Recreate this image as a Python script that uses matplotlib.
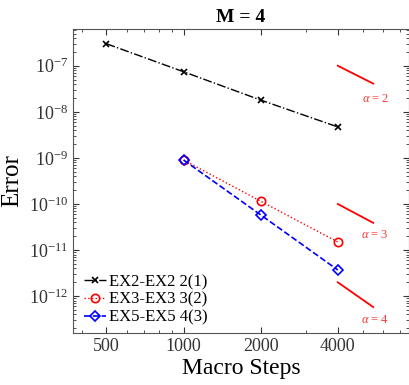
import numpy as np
import matplotlib
matplotlib.use('Agg')
import matplotlib.pyplot as plt
from matplotlib.ticker import FixedLocator, FixedFormatter, LogLocator, NullFormatter

plt.rcParams['font.family'] = 'Liberation Serif'
plt.rcParams['mathtext.fontset'] = 'custom'
plt.rcParams['mathtext.rm'] = 'Liberation Serif'
plt.rcParams['mathtext.it'] = 'Liberation Serif:italic'

# Data.
steps = [500, 1000, 2000, 4000]
steps_hi = [1000, 2000, 4000]

err_ex2 = [3.0e-7, 7.4e-8, 1.8e-8, 4.7e-9]
err_ex3 = [9.0e-10, 1.15e-10, 1.5e-11]
err_ex5 = [9.0e-10, 5.8e-11, 3.7e-12]

labels = ['EX2-EX2 2(1)', 'EX3-EX3 3(2)', 'EX5-EX5 4(3)']

# Reference slope segments.
slope_x = [4000, 5500]
slope_y = {
    2: [1.0e-7, 4.1e-8],
    3: [1.0e-10, 3.9e-11],
    4: [2.0e-12, 5.8e-13],
}
slope_label_y = {2: 1.9e-8, 3: 2.1e-11, 4: 3.0e-13}

fig = plt.figure(figsize=(4.1, 3.85), dpi=100)
ax = fig.add_axes([0.178, 0.135, 0.82, 0.79])

ax.loglog(steps, err_ex2, 'k-.', marker='x', ms=5, mew=1.2, lw=1, label=labels[0])
ax.loglog(steps_hi, err_ex3, 'r:', marker='o', ms=6, mfc='none', mew=1.2, lw=1, label=labels[1])
ax.loglog(steps_hi, err_ex5, 'b--', marker='D', ms=5, mfc='none', mew=1.2, lw=1.2, label=labels[2])

for a in (2, 3, 4):
    ax.plot(slope_x, slope_y[a], 'r-', lw=1.3)
    ax.text(5600, slope_label_y[a], r'$\alpha$ = %d' % a, color='#ff3333',
            fontsize=9, ha='center', va='center')

ax.set_xlim(370, 7600)
ax.set_ylim(10 ** -12.8, 10 ** -6.2)

ax.xaxis.set_major_locator(FixedLocator(steps))
ax.xaxis.set_major_formatter(FixedFormatter([str(s) for s in steps]))
ax.xaxis.set_minor_locator(LogLocator(base=10, subs=np.arange(2, 10)))
ax.xaxis.set_minor_formatter(NullFormatter())

yt = [1e-12, 1e-11, 1e-10, 1e-9, 1e-8, 1e-7]
ax.yaxis.set_major_locator(FixedLocator(yt))
ax.yaxis.set_major_formatter(FixedFormatter([r'10$^{-%d}$' % k for k in (12, 11, 10, 9, 8, 7)]))
ax.yaxis.set_minor_locator(LogLocator(base=10, subs=np.arange(2, 10)))
ax.yaxis.set_minor_formatter(NullFormatter())

ax.tick_params(which='both', direction='in', top=True, right=True, labelsize=13, colors='#333333')
ax.tick_params(which='major', length=4)
ax.tick_params(which='minor', length=2)
for s in ax.spines.values():
    s.set_color('#555555')

ax.set_xlabel('Macro Steps', fontsize=17, labelpad=2)
ax.set_ylabel('Error', fontsize=18, labelpad=4)
ax.set_title('M = 4', fontsize=14, fontweight='bold', pad=5)

ax.legend(loc='lower left', frameon=False, fontsize=12, handlelength=1.3,
          handletextpad=0.2, labelspacing=0.1, borderaxespad=0.05,
          bbox_to_anchor=(0.01, 0.0))

fig.savefig('out.png', dpi=100)
